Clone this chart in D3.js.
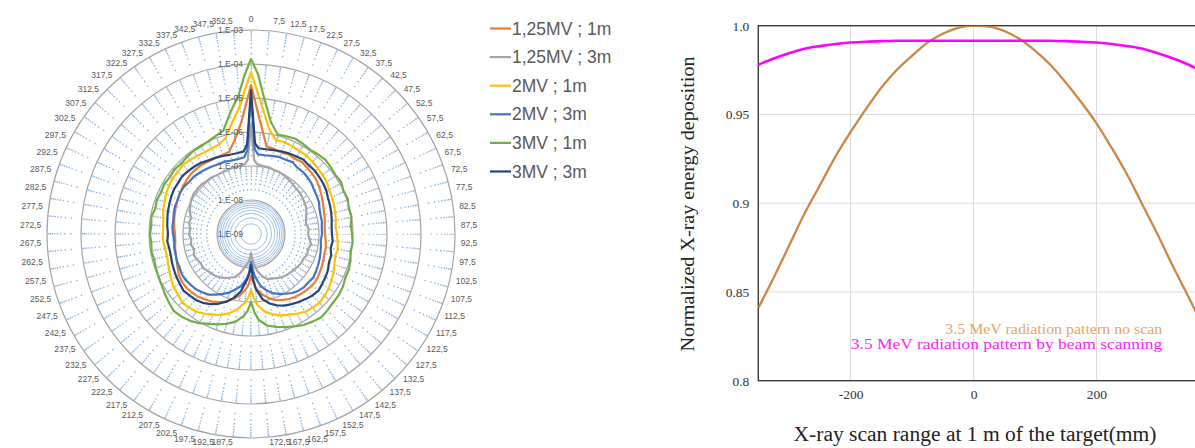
<!DOCTYPE html>
<html>
<head>
<meta charset="utf-8">
<script src="https://cdn.jsdelivr.net/npm/d3@7"></script>
<style>
  body { margin: 0; background: #fff; }
  svg { display: block; }
</style>
</head>
<body>
<svg id="chart" width="1195" height="448"></svg>
<script>
// ---- left: radar chart of relative dose (log radial axis) ----
const polarAngles = [0, 2.5, 5, 10, 15, 20, 25, 30, 35, 40, 45, 50, 55, 60, 65, 70, 75, 80, 85, 90,
  95, 100, 105, 110, 115, 120, 125, 130, 135, 140, 145, 150, 155, 160, 165, 170, 175, 177.5, 180,
  182.5, 185, 190, 195, 200, 205, 210, 215, 220, 225, 230, 235, 240, 245, 250, 255, 260, 265, 270,
  275, 280, 285, 290, 295, 300, 305, 310, 315, 320, 325, 330, 335, 340, 345, 350, 355, 357.5];

// 177,5 and 182,5 fall below the picture in the reference, so they are left out
const polarLabels = [0, 7.5, 12.5, 17.5, 22.5, 27.5, 32.5, 37.5, 42.5, 47.5, 52.5, 57.5, 62.5, 67.5,
  72.5, 77.5, 82.5, 87.5, 92.5, 97.5, 102.5, 107.5, 112.5, 117.5, 122.5, 127.5, 132.5, 137.5, 142.5,
  147.5, 152.5, 157.5, 162.5, 167.5, 172.5, 187.5, 192.5, 197.5, 202.5, 207.5, 212.5,
  217.5, 222.5, 227.5, 232.5, 237.5, 242.5, 247.5, 252.5, 257.5, 262.5, 267.5, 272.5, 277.5, 282.5,
  287.5, 292.5, 297.5, 302.5, 307.5, 312.5, 317.5, 322.5, 327.5, 332.5, 337.5, 342.5, 347.5, 352.5];

const doseTicks = [1e-9, 1e-8, 1e-7, 1e-6, 1e-5, 1e-4, 1e-3];
const doseTickLabels = ['1,E-09', '1,E-08', '1,E-07', '1,E-06', '1,E-05', '1,E-04', '1,E-03'];

const dose125_1m = [
  2.4e-5, 5.4e-6, 1.84e-6, 4.15e-7, 3.9e-7, 3.6e-7, 3.9e-7, 3.6e-7, 3.9e-7, 3.6e-7, 3.4e-7, 3.16e-7, 2.76e-7, 2.4e-7, 2.1e-7, 1.84e-7, 1.72e-7, 1.61e-7, 1.5e-7, 1.5e-7,
  1.61e-7, 1.72e-7, 1.72e-7, 1.84e-7, 1.97e-7, 2.1e-7, 2.25e-7, 2.25e-7, 2.1e-7, 1.97e-7, 1.84e-7, 1.61e-7, 1.4e-7, 1.15e-7, 8.8e-8, 6.2e-8, 3.9e-8, 2.6e-8, 1.72e-8,
  2.96e-8, 4.15e-8, 6.7e-8, 9.4e-8, 1.31e-7, 1.61e-7, 1.97e-7, 2.25e-7, 2.58e-7, 2.76e-7, 2.96e-7, 2.96e-7, 2.76e-7, 2.4e-7, 2.1e-7, 1.97e-7, 1.84e-7, 1.72e-7, 1.72e-7,
  1.84e-7, 1.97e-7, 2.1e-7, 2.25e-7, 2.4e-7, 2.58e-7, 2.76e-7, 2.96e-7, 3.16e-7, 3.16e-7, 3.16e-7, 2.96e-7, 2.96e-7, 2.96e-7, 3.16e-7, 6.2e-7, 1.97e-6, 5.8e-6];

const dose125_3m = [
  1.72e-6, 1.5e-7, 1.15e-7, 1.07e-7, 1.07e-7, 1.0e-7, 1.0e-7, 9.4e-8, 8.8e-8, 8.2e-8, 7.6e-8, 7.6e-8, 7.1e-8, 6.7e-8, 6.2e-8, 5.4e-8, 4.75e-8, 4.4e-8, 5.1e-8, 4.75e-8,
  5.4e-8, 6.2e-8, 5.4e-8, 5.8e-8, 5.1e-8, 5.1e-8, 4.75e-8, 4.4e-8, 4.15e-8, 3.9e-8, 3.6e-8, 3.16e-8, 2.76e-8, 2.58e-8, 1.97e-8, 1.31e-8, 7.6e-9, 5.1e-9, 3.6e-9,
  5.1e-9, 6.7e-9, 9.4e-9, 1.5e-8, 2.25e-8, 2.58e-8, 3.16e-8, 3.6e-8, 4.15e-8, 4.4e-8, 4.75e-8, 5.4e-8, 5.1e-8, 5.8e-8, 6.2e-8, 5.4e-8, 6.2e-8, 5.8e-8, 6.7e-8,
  6.2e-8, 7.1e-8, 6.7e-8, 8.2e-8, 9.4e-8, 1.07e-7, 1.15e-7, 1.15e-7, 1.15e-7, 1.07e-7, 1.07e-7, 1.0e-7, 1.0e-7, 1.0e-7, 1.07e-7, 1.07e-7, 1.15e-7, 1.5e-7];

const dose2_1m = [
  5.8e-5, 1.61e-5, 5.8e-6, 1.31e-6, 7.1e-7, 7.6e-7, 7.1e-7, 6.7e-7, 6.7e-7, 6.2e-7, 5.8e-7, 5.4e-7, 5.1e-7, 4.4e-7, 4.15e-7, 3.9e-7, 3.6e-7, 3.4e-7, 3.16e-7, 3.4e-7,
  3.6e-7, 3.9e-7, 3.6e-7, 4.15e-7, 4.75e-7, 5.4e-7, 6.2e-7, 6.7e-7, 7.1e-7, 6.7e-7, 6.2e-7, 5.1e-7, 4.15e-7, 3.6e-7, 2.76e-7, 2.1e-7, 1.23e-7, 7.6e-8, 4.4e-8,
  7.6e-8, 1.07e-7, 1.72e-7, 2.58e-7, 3.4e-7, 4.15e-7, 5.1e-7, 6.2e-7, 6.7e-7, 7.1e-7, 6.2e-7, 5.8e-7, 5.1e-7, 4.4e-7, 3.9e-7, 3.6e-7, 3.6e-7, 3.9e-7, 3.9e-7,
  3.9e-7, 4.15e-7, 4.75e-7, 5.1e-7, 5.8e-7, 6.2e-7, 6.7e-7, 6.7e-7, 7.1e-7, 6.7e-7, 6.2e-7, 5.8e-7, 5.8e-7, 6.2e-7, 8.2e-7, 1.97e-6, 5.8e-6, 1.72e-5];

const dose2_3m = [
  1.4e-5, 3.16e-7, 2.25e-7, 2.25e-7, 2.4e-7, 2.58e-7, 2.58e-7, 2.76e-7, 2.4e-7, 2.4e-7, 2.25e-7, 2.1e-7, 1.84e-7, 1.72e-7, 1.61e-7, 1.4e-7, 1.31e-7, 1.31e-7, 1.23e-7, 1.23e-7,
  1.15e-7, 1.23e-7, 1.31e-7, 1.4e-7, 1.5e-7, 1.61e-7, 1.72e-7, 1.61e-7, 1.61e-7, 1.5e-7, 1.31e-7, 1.07e-7, 8.8e-8, 7.1e-8, 5.1e-8, 3.4e-8, 1.72e-8, 1.07e-8, 6.7e-9,
  1.31e-8, 1.97e-8, 3.4e-8, 4.75e-8, 6.7e-8, 8.8e-8, 1.15e-7, 1.5e-7, 1.72e-7, 1.97e-7, 2.1e-7, 2.25e-7, 2.25e-7, 2.1e-7, 2.1e-7, 1.97e-7, 1.97e-7, 1.84e-7, 1.97e-7,
  2.1e-7, 2.1e-7, 2.25e-7, 2.4e-7, 2.4e-7, 2.58e-7, 2.58e-7, 2.4e-7, 2.4e-7, 2.25e-7, 2.1e-7, 1.97e-7, 1.84e-7, 1.84e-7, 1.72e-7, 1.72e-7, 1.84e-7, 2.96e-7];

const dose3_1m = [
  1.4e-4, 5.1e-5, 1.31e-5, 2.25e-6, 1.07e-6, 1.15e-6, 1.23e-6, 1.15e-6, 1.07e-6, 1.15e-6, 1.23e-6, 1.15e-6, 1.07e-6, 1.15e-6, 1.0e-6, 1.07e-6, 9.4e-7, 1.0e-6, 8.8e-7, 9.4e-7,
  1.0e-6, 9.4e-7, 1.07e-6, 1.15e-6, 1.15e-6, 1.31e-6, 1.4e-6, 1.4e-6, 1.5e-6, 1.61e-6, 1.4e-6, 1.23e-6, 1.0e-6, 8.2e-7, 6.7e-7, 5.4e-7, 3.4e-7, 2.0e-7, 1.0e-7,
  1.84e-7, 2.6e-7, 4.15e-7, 5.4e-7, 6.7e-7, 8.2e-7, 1.07e-6, 1.31e-6, 1.5e-6, 1.61e-6, 1.4e-6, 1.23e-6, 1.07e-6, 1.0e-6, 9.4e-7, 8.8e-7, 9.4e-7, 8.8e-7, 9.4e-7,
  8.8e-7, 9.4e-7, 8.2e-7, 8.8e-7, 8.2e-7, 8.8e-7, 8.2e-7, 8.8e-7, 8.2e-7, 8.8e-7, 9.4e-7, 9.4e-7, 1.0e-6, 1.15e-6, 1.4e-6, 3.9e-6, 1.31e-5, 4.4e-5];

const dose3_3m = [
  1.72e-5, 4.75e-7, 3.4e-7, 3.4e-7, 3.6e-7, 3.9e-7, 4.15e-7, 4.4e-7, 4.75e-7, 4.4e-7, 4.4e-7, 4.15e-7, 3.9e-7, 3.6e-7, 3.16e-7, 2.96e-7, 2.76e-7, 2.58e-7, 2.4e-7, 2.4e-7,
  2.58e-7, 2.4e-7, 2.76e-7, 2.76e-7, 3.16e-7, 3.4e-7, 3.6e-7, 3.9e-7, 3.6e-7, 3.16e-7, 2.76e-7, 2.4e-7, 2.1e-7, 1.72e-7, 1.31e-7, 8.8e-8, 4.15e-8, 2.1e-8, 8.2e-9,
  1.5e-8, 2.25e-8, 5.1e-8, 8.8e-8, 1.31e-7, 1.84e-7, 2.4e-7, 2.96e-7, 3.4e-7, 3.6e-7, 3.9e-7, 3.6e-7, 3.4e-7, 3.16e-7, 2.96e-7, 2.76e-7, 2.76e-7, 2.96e-7, 2.76e-7,
  2.96e-7, 3.16e-7, 3.4e-7, 3.6e-7, 3.9e-7, 4.15e-7, 4.15e-7, 4.4e-7, 4.15e-7, 3.9e-7, 3.6e-7, 3.16e-7, 2.96e-7, 2.76e-7, 2.58e-7, 2.58e-7, 2.76e-7, 4.4e-7];

// ---- right: scan profile ----
const scanX = [-350, -325, -300, -275, -250, -225, -200, -175, -150, -125, -100, -75, -50, -25, 0,
  25, 50, 75, 100, 125, 150, 175, 200, 225, 250, 275, 300, 325, 350, 370];
const noScan = [0.841, 0.858, 0.876, 0.894, 0.910, 0.926, 0.940, 0.953, 0.965, 0.975, 0.983, 0.9905, 0.9955, 0.9988, 1.0,
  0.9995, 0.997, 0.9925, 0.986, 0.978, 0.968, 0.957, 0.945, 0.931, 0.916, 0.899, 0.882, 0.864, 0.847, 0.833];
const beamScan = [0.978, 0.9815, 0.9845, 0.987, 0.9885, 0.9897, 0.9905, 0.991, 0.9913, 0.9915, 0.9915, 0.9915, 0.9915, 0.9915, 0.9915,
  0.9915, 0.9915, 0.9915, 0.9915, 0.9915, 0.9913, 0.991, 0.9905, 0.9897, 0.9885, 0.987, 0.9845, 0.9815, 0.978, 0.9745];
const xTicks = [-200, 0, 200];
const yTicks = [0.8, 0.85, 0.9, 0.95, 1.0];
const yTickLabels = ['0.8', '0.85', '0.9', '0.95', '1.0'];

const svg = d3.select('#chart');
const SANS = "'Liberation Sans', Arial, sans-serif";
const SERIF = "'Liberation Serif', 'Times New Roman', serif";

// ================= polar =================
const cx = 251, cy = 234, R = 204;
const rScale = d3.scaleLog().domain([1e-9, 1e-3]).range([0, R]);
const gp = svg.append('g').attr('transform', `translate(${cx},${cy})`);

// minor log rings, drawn dotted so the dots line up on 5° spokes
const minorVals = [];
doseTicks.slice(0, -1).forEach(t => { for (let k = 2; k <= 9; k++) minorVals.push(k * t); });
minorVals.forEach(v => {
  const r = rScale(v);
  const step = 2 * Math.PI * r / 72;
  const c = gp.append('circle').attr('r', r).attr('fill', 'none');
  if (step < 3) {
    c.attr('stroke', '#9fc2e8').attr('stroke-width', 1);
  } else {
    c.attr('stroke', '#88b0dc').attr('stroke-width', 1.35)
      .attr('stroke-dasharray', `1.35 ${step - 1.35}`)
      .attr('stroke-dashoffset', 0.67);
  }
});

// major rings
gp.selectAll('circle.major')
  .data(doseTicks.slice(1))
  .join('circle')
  .attr('class', 'major')
  .attr('r', d => rScale(d))
  .attr('fill', 'none')
  .attr('stroke', '#a3a3a3')
  .attr('stroke-width', 1.2);

// series
const polarSeries = [
  { name: '1,25MV ; 1m', color: '#ED7D31', values: dose125_1m },
  { name: '1,25MV ; 3m', color: '#A5A5A5', values: dose125_3m },
  { name: '2MV ; 1m', color: '#FFC000', values: dose2_1m },
  { name: '2MV ; 3m', color: '#4472C4', values: dose2_3m },
  { name: '3MV ; 1m', color: '#70AD47', values: dose3_1m },
  { name: '3MV ; 3m', color: '#264478', values: dose3_3m },
];
polarSeries.forEach(s => {
  if (s.values.length !== polarAngles.length) console.warn('[polar] length mismatch', s.name, s.values.length);
});

const radial = d3.lineRadial()
  .angle(d => d[0] * Math.PI / 180)
  .radius(d => rScale(d[1]))
  .curve(d3.curveLinearClosed);

gp.selectAll('path.series')
  .data(polarSeries)
  .join('path')
  .attr('class', 'series')
  .attr('d', s => radial(polarAngles.map((a, i) => [a, s.values[i]])))
  .attr('fill', 'none')
  .attr('stroke', s => s.color)
  .attr('stroke-width', 2.2)
  .attr('stroke-linejoin', 'round');

// value axis labels
gp.selectAll('text.val')
  .data(doseTicks)
  .join('text')
  .attr('class', 'val')
  .attr('x', -8)
  .attr('y', d => -rScale(d))
  .attr('dy', '0.35em')
  .attr('text-anchor', 'end')
  .attr('font-family', SANS)
  .attr('font-size', 8.5)
  .attr('fill', '#595959')
  .text((d, i) => doseTickLabels[i]);

// angle labels, pushed outside the outer ring
gp.selectAll('text.ang')
  .data(polarLabels)
  .join('text')
  .attr('class', 'ang')
  .attr('text-anchor', 'middle')
  .attr('dy', '0.35em')
  .attr('font-family', SANS)
  .attr('font-size', 8.5)
  .attr('fill', '#595959')
  .text(d => String(d).replace('.', ','))
  .each(function (d) {
    const a = d * Math.PI / 180;
    const w = this.getComputedTextLength();
    const s = Math.sin(a), c = Math.cos(a);
    const x = (R + 6) * s + s * w / 2;
    // keep the bottom labels inside the picture
    const y = Math.min(-(R + 6) * c - c * 5, 448 - cy - 6);
    d3.select(this).attr('x', x).attr('y', y);
  });

// legend
const lg = svg.append('g').attr('transform', 'translate(490,28.5)');
polarSeries.forEach((s, i) => {
  const y = i * 28.6;
  lg.append('line').attr('x1', 0).attr('x2', 21).attr('y1', y).attr('y2', y)
    .attr('stroke', s.color).attr('stroke-width', 2.2);
  lg.append('text').attr('x', 22).attr('y', y).attr('dy', '0.35em')
    .attr('font-family', SANS).attr('font-size', 17.5).attr('fill', '#595959')
    .text(s.name);
});

// ================= line chart =================
const x = d3.scaleLinear().domain([-350, 370]).range([758.3, 1201]);
const y = d3.scaleLinear().domain([0.8, 1.0]).range([380.7, 25.7]);
const gl = svg.append('g');

gl.append('clipPath').attr('id', 'plot-clip')
  .append('rect').attr('x', x(-350)).attr('y', y(1.0)).attr('width', x(370) - x(-350)).attr('height', y(0.8) - y(1.0));

// grid
gl.selectAll('line.vgrid').data(xTicks).join('line').attr('class', 'vgrid')
  .attr('x1', d => x(d)).attr('x2', d => x(d)).attr('y1', y(1.0)).attr('y2', y(0.8))
  .attr('stroke', '#dcdcdc').attr('stroke-width', 1);
gl.selectAll('line.hgrid').data(yTicks.slice(1, -1)).join('line').attr('class', 'hgrid')
  .attr('x1', x(-350)).attr('x2', x(370)).attr('y1', d => y(d)).attr('y2', d => y(d))
  .attr('stroke', '#dcdcdc').attr('stroke-width', 1);

// frame
gl.append('rect').attr('x', x(-350)).attr('y', y(1.0))
  .attr('width', x(370) - x(-350)).attr('height', y(0.8) - y(1.0))
  .attr('fill', 'none').attr('stroke', '#3a3a3a').attr('stroke-width', 1.4);

// axes (labels only)
const yAxis = d3.axisLeft(y).tickValues(yTicks).tickFormat((d, i) => yTickLabels[i]).tickSize(0).tickPadding(9);
gl.append('g').attr('transform', `translate(${x(-350)},0)`).call(yAxis)
  .call(g => g.select('.domain').remove())
  .selectAll('text').attr('font-family', SERIF).attr('font-size', 13.5).attr('fill', '#333');

const xAxis = d3.axisBottom(x).tickValues(xTicks).tickFormat(d => String(d)).tickSize(0).tickPadding(9);
gl.append('g').attr('transform', `translate(0,${y(0.8)})`).call(xAxis)
  .call(g => g.select('.domain').remove())
  .selectAll('text').attr('font-family', SERIF).attr('font-size', 13.5).attr('fill', '#333');

// curves
const line = d3.line().x(d => x(d[0])).y(d => y(d[1])).curve(d3.curveMonotoneX);
const gc = gl.append('g').attr('clip-path', 'url(#plot-clip)');
gc.append('path').attr('d', line(scanX.map((v, i) => [v, noScan[i]])))
  .attr('fill', 'none').attr('stroke', '#CD8643').attr('stroke-width', 2.3);
gc.append('path').attr('d', line(scanX.map((v, i) => [v, beamScan[i]])))
  .attr('fill', 'none').attr('stroke', '#FF00FF').attr('stroke-width', 2.6);

// legend text
gl.append('text').attr('x', 1162.3).attr('y', 328.5).attr('dy', '0.35em').attr('text-anchor', 'end')
  .attr('font-family', SERIF).attr('font-size', 15.5).attr('fill', '#E2A66A')
  .attr('textLength', 217).attr('lengthAdjust', 'spacingAndGlyphs')
  .text('3.5 MeV radiation pattern no scan');
gl.append('text').attr('x', 1162.3).attr('y', 344).attr('dy', '0.35em').attr('text-anchor', 'end')
  .attr('font-family', SERIF).attr('font-size', 15.5).attr('fill', '#FF22FF')
  .attr('textLength', 311.5).attr('lengthAdjust', 'spacingAndGlyphs')
  .text('3.5 MeV radiation pattern by beam scanning');

// titles
gl.append('text')
  .attr('transform', 'translate(694,204) rotate(-90)')
  .attr('text-anchor', 'middle')
  .attr('font-family', SERIF).attr('font-size', 18).attr('fill', '#222')
  .attr('textLength', 295).attr('lengthAdjust', 'spacingAndGlyphs')
  .text('Normalized X-ray energy deposition');
gl.append('text')
  .attr('x', 975).attr('y', 441)
  .attr('text-anchor', 'middle')
  .attr('font-family', SERIF).attr('font-size', 20).attr('fill', '#222')
  .attr('textLength', 363).attr('lengthAdjust', 'spacingAndGlyphs')
  .text('X-ray scan range at 1 m of the target(mm)');
</script>
</body>
</html>
